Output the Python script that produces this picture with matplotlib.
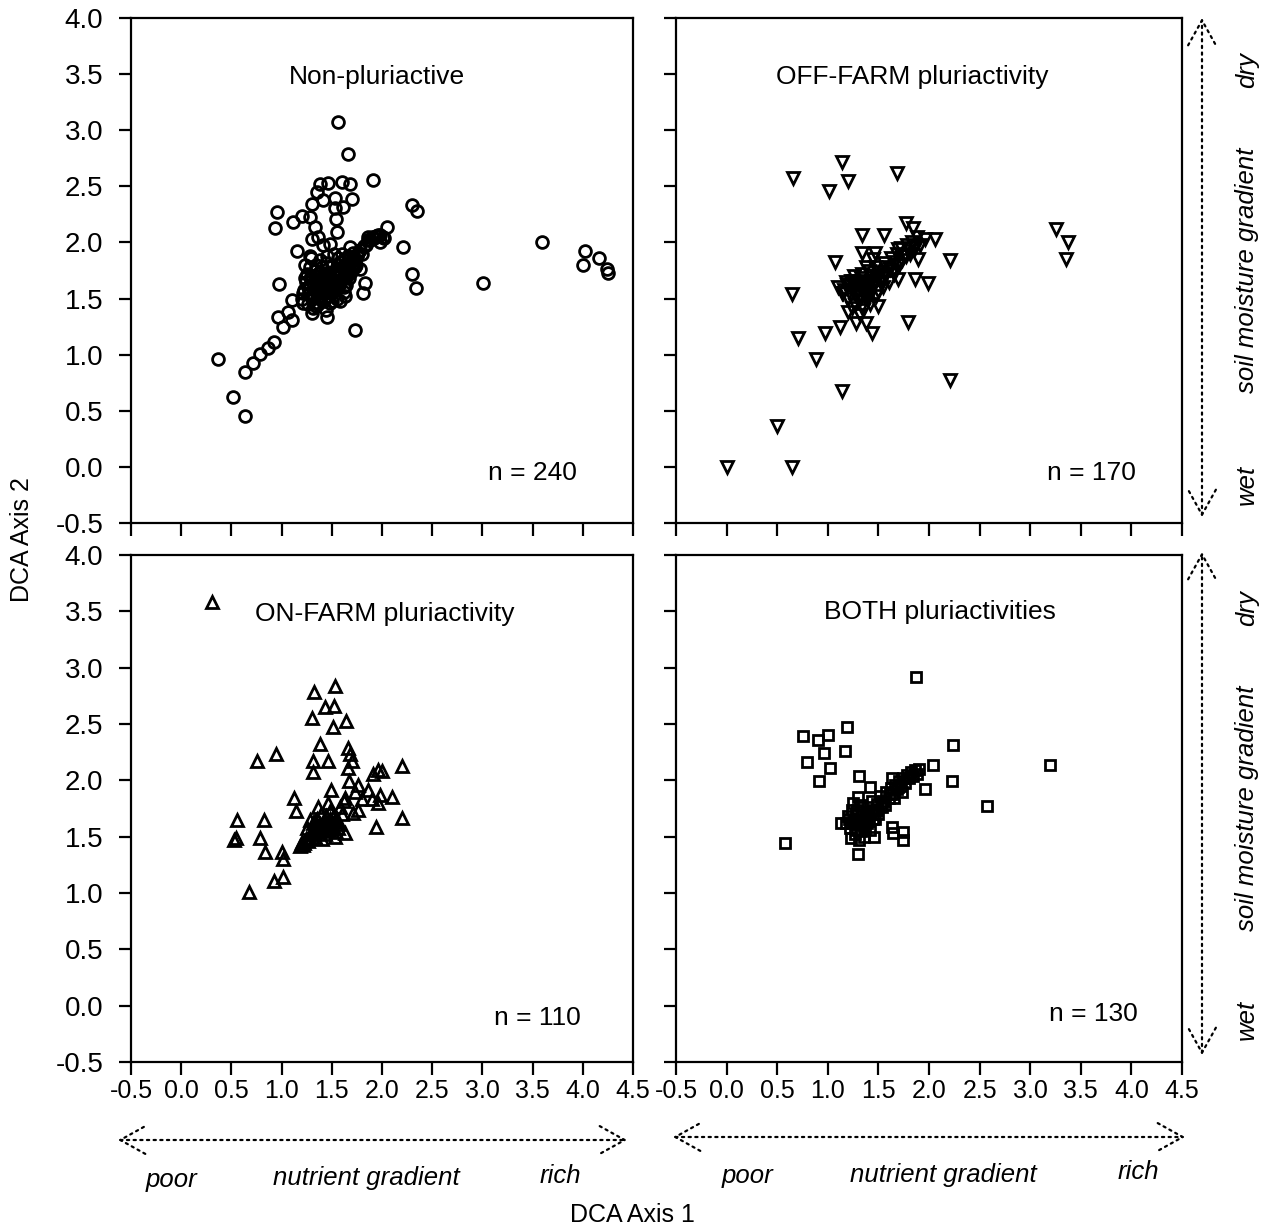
import numpy as np
import matplotlib
matplotlib.use('Agg')
import matplotlib.pyplot as plt
from matplotlib import font_manager

# fonts: helvetica-like, x tick labels are condensed in the original
names = {f.name for f in font_manager.fontManager.ttflist}
plt.rcParams['font.family'] = 'Liberation Sans'
narrow = 'Liberation Sans Narrow' if 'Liberation Sans Narrow' in names else None

# ---- data (DCA axis 1, DCA axis 2) ----
# Non-pluriactive (n = 240)
non_x = [0.37, 0.52, 0.64, 0.64, 0.72, 0.78, 0.86, 0.92, 0.96, 1.01, 1.06, 1.10, 1.10, 1.21, 1.30, 1.45,
         0.97, 1.15, 1.28, 1.30, 1.36, 1.41, 1.48, 0.95, 0.93, 1.11, 1.20, 1.30, 1.35, 1.38, 1.46, 1.60,
         1.68, 1.41, 1.53, 1.70, 1.61, 1.53, 1.54, 1.55, 1.33, 1.28, 1.56, 1.66, 1.91, 2.05, 1.86, 1.95,
         1.98, 2.21, 2.30, 2.35, 2.30, 2.34, 1.73, 1.83, 1.81, 1.78, 1.68, 1.71, 1.76, 1.63, 3.01, 3.59,
         4.02, 4.00, 4.16, 4.24, 4.25, 2.02,
         1.20, 1.22, 1.24, 1.25, 1.27, 1.28, 1.30, 1.30, 1.32, 1.33, 1.34, 1.35, 1.36, 1.37, 1.38, 1.39,
         1.40, 1.41, 1.42, 1.43, 1.44, 1.45, 1.46, 1.47, 1.48, 1.49, 1.50, 1.51, 1.52, 1.53, 1.54, 1.55,
         1.56, 1.57, 1.58, 1.59, 1.60, 1.61, 1.62, 1.63, 1.64, 1.65, 1.66, 1.67, 1.68, 1.70, 1.72, 1.74,
         1.36, 1.42, 1.48, 1.55, 1.26, 1.31, 1.44, 1.38, 1.45, 1.52, 1.23, 1.29, 1.78, 1.82, 1.86, 1.90,
         1.94, 1.98, 2.01, 1.58, 1.34, 1.46,
         1.21, 1.23, 1.26, 1.29, 1.31, 1.33, 1.35, 1.37, 1.39, 1.41, 1.43, 1.45, 1.47, 1.49, 1.51, 1.53,
         1.55, 1.57, 1.59, 1.61, 1.63, 1.65, 1.67, 1.69, 1.71, 1.73, 1.28, 1.34, 1.40, 1.46, 1.52, 1.58,
         1.64, 1.32, 1.38, 1.44, 1.50, 1.56, 1.62, 1.26, 1.75, 1.80, 1.84, 1.88, 1.92, 1.96, 1.60, 1.68]
non_y = [0.96, 0.62, 0.85, 0.45, 0.93, 1.01, 1.06, 1.11, 1.34, 1.25, 1.38, 1.31, 1.49, 1.46, 1.37, 1.34,
         1.63, 1.92, 1.88, 2.03, 2.05, 1.98, 1.99, 2.27, 2.13, 2.18, 2.24, 2.34, 2.45, 2.52, 2.53, 2.54,
         2.52, 2.38, 2.40, 2.39, 2.32, 2.31, 2.21, 2.09, 2.14, 2.23, 3.07, 2.79, 2.56, 2.14, 2.05, 2.06,
         2.00, 1.96, 2.33, 2.28, 1.72, 1.59, 1.22, 1.64, 1.55, 1.76, 1.96, 1.91, 1.91, 1.52, 1.64, 2.00,
         1.92, 1.80, 1.86, 1.76, 1.73, 2.04,
         1.50, 1.58, 1.65, 1.72, 1.55, 1.62, 1.68, 1.50, 1.58, 1.75, 1.64, 1.55, 1.70, 1.60, 1.66, 1.52,
         1.78, 1.62, 1.70, 1.57, 1.65, 1.60, 1.73, 1.68, 1.55, 1.62, 1.80, 1.66, 1.72, 1.58, 1.64, 1.76,
         1.69, 1.62, 1.83, 1.73, 1.67, 1.78, 1.60, 1.85, 1.72, 1.79, 1.88, 1.68, 1.82, 1.76, 1.86, 1.80,
         1.45, 1.48, 1.46, 1.50, 1.45, 1.42, 1.40, 1.84, 1.88, 1.90, 1.80, 1.86, 1.93, 1.97, 2.02, 2.05,
         2.06, 2.07, 2.05, 1.48, 1.43, 1.52,
         1.55, 1.68, 1.60, 1.70, 1.53, 1.67, 1.61, 1.73, 1.57, 1.68, 1.63, 1.71, 1.60, 1.66, 1.74, 1.69,
         1.63, 1.70, 1.75, 1.68, 1.73, 1.70, 1.76, 1.74, 1.80, 1.78, 1.78, 1.80, 1.56, 1.52, 1.60, 1.64,
         1.62, 1.46, 1.74, 1.82, 1.48, 1.86, 1.56, 1.60, 1.88, 1.90, 1.98, 2.02, 2.04, 2.07, 1.90, 1.85]

# OFF-FARM pluriactivity (n = 170)
off_x = [1.14, 0.66, 1.20, 1.01, 1.68, 1.77, 1.84, 1.34, 1.56, 2.06, 1.96, 2.21, 1.07, 1.34, 1.47, 1.69,
         1.89, 0.65, 1.14, 1.86, 1.99, 1.69, 1.50, 1.34, 1.79, 1.20, 1.12, 1.28, 1.38, 1.44, 0.97, 0.71,
         0.88, 1.14, 2.21, 0.50, 0.00, 0.65, 3.25, 3.37, 3.35,
         1.10, 1.15, 1.18, 1.20, 1.22, 1.25, 1.26, 1.28, 1.30, 1.31, 1.33, 1.34, 1.36, 1.37, 1.39, 1.40,
         1.41, 1.43, 1.44, 1.46, 1.47, 1.49, 1.50, 1.52, 1.54, 1.56, 1.58, 1.60, 1.62, 1.64, 1.66, 1.68,
         1.70, 1.72, 1.75, 1.78, 1.80, 1.83, 1.86, 1.88, 1.91, 1.27, 1.35, 1.32, 1.42, 1.24, 1.38, 1.45,
         1.55, 1.60, 1.48,
         1.16, 1.19, 1.21, 1.23, 1.26, 1.29, 1.32, 1.35, 1.38, 1.41, 1.44, 1.47, 1.50, 1.53, 1.57, 1.61,
         1.65, 1.69, 1.73, 1.77, 1.81, 1.85, 1.30, 1.36, 1.42, 1.48, 1.54, 1.25, 1.33, 1.40]
off_y = [2.72, 2.57, 2.55, 2.46, 2.62, 2.17, 2.13, 2.07, 2.07, 2.03, 2.03, 1.84, 1.83, 1.91, 1.91, 1.94,
         1.85, 1.54, 1.55, 1.67, 1.64, 1.67, 1.43, 1.43, 1.29, 1.38, 1.25, 1.28, 1.28, 1.19, 1.19, 1.15,
         0.96, 0.68, 0.77, 0.36, 0.00, 0.00, 2.12, 2.00, 1.85,
         1.60, 1.55, 1.65, 1.50, 1.62, 1.58, 1.70, 1.52, 1.64, 1.48, 1.60, 1.72, 1.55, 1.66, 1.62, 1.50,
         1.75, 1.58, 1.68, 1.63, 1.78, 1.70, 1.57, 1.74, 1.66, 1.82, 1.72, 1.78, 1.86, 1.75, 1.83, 1.90,
         1.80, 1.95, 1.88, 1.98, 1.92, 2.00, 1.95, 2.05, 1.98, 1.44, 1.40, 1.35, 1.45, 1.42, 1.78, 1.85,
         1.60, 1.65, 1.52,
         1.58, 1.62, 1.56, 1.66, 1.60, 1.56, 1.62, 1.60, 1.58, 1.64, 1.60, 1.66, 1.68, 1.64, 1.70, 1.76,
         1.72, 1.80, 1.84, 1.88, 1.90, 1.96, 1.58, 1.52, 1.55, 1.70, 1.68, 1.66, 1.68, 1.54]

# ON-FARM pluriactivity (n = 110)
on_x = [0.31, 1.53, 1.32, 1.43, 1.52, 1.30, 1.64, 1.51, 1.38, 1.66, 1.68, 1.70, 1.66, 0.75, 0.94, 1.31,
        1.46, 1.31, 1.96, 2.00, 1.91, 2.20, 1.67, 1.76, 1.86, 1.98, 2.10, 1.73, 1.63, 1.80, 1.49, 1.12,
        1.90, 1.96, 1.14, 1.76, 1.71, 2.20, 1.94, 1.63, 0.56, 0.82, 0.55, 0.78, 0.53, 0.83, 1.00, 1.01,
        0.92, 1.01, 0.68,
        1.18, 1.20, 1.22, 1.24, 1.26, 1.28, 1.30, 1.31, 1.33, 1.34, 1.35, 1.37, 1.38, 1.39, 1.40, 1.42,
        1.43, 1.44, 1.45, 1.47, 1.48, 1.50, 1.51, 1.52, 1.54, 1.55, 1.57, 1.58, 1.60, 1.36, 1.28, 1.25,
        1.46, 1.62, 1.40, 1.53,
        1.21, 1.27, 1.32, 1.36, 1.41, 1.45, 1.49, 1.53, 1.56, 1.33, 1.39, 1.44, 1.48, 1.30]
on_y = [3.58, 2.84, 2.78, 2.65, 2.66, 2.55, 2.53, 2.47, 2.32, 2.29, 2.23, 2.17, 2.11, 2.17, 2.23, 2.17,
        2.17, 2.07, 2.09, 2.08, 2.06, 2.13, 1.99, 1.96, 1.91, 1.87, 1.85, 1.90, 1.84, 1.83, 1.91, 1.84,
        1.83, 1.80, 1.73, 1.74, 1.71, 1.67, 1.59, 1.53, 1.65, 1.65, 1.49, 1.49, 1.47, 1.36, 1.36, 1.30,
        1.11, 1.14, 1.01,
        1.42, 1.45, 1.44, 1.48, 1.46, 1.52, 1.55, 1.62, 1.50, 1.58, 1.66, 1.54, 1.61, 1.70, 1.57, 1.64,
        1.52, 1.68, 1.60, 1.56, 1.73, 1.63, 1.58, 1.69, 1.54, 1.66, 1.61, 1.76, 1.70, 1.76, 1.65, 1.58,
        1.80, 1.82, 1.48, 1.50,
        1.43, 1.49, 1.56, 1.58, 1.60, 1.62, 1.60, 1.64, 1.58, 1.64, 1.55, 1.57, 1.66, 1.52]

# BOTH pluriactivities (n = 130)
both_x = [1.87, 1.19, 0.75, 0.90, 1.00, 1.17, 0.96, 0.79, 1.02, 0.91, 2.24, 2.23, 3.20, 2.57, 2.04, 1.96,
          1.31, 1.42, 1.63, 0.58, 1.13, 1.23, 1.31, 1.46, 1.63, 1.64, 1.74, 1.74, 1.30,
          1.18, 1.20, 1.22, 1.24, 1.26, 1.28, 1.29, 1.31, 1.32, 1.34, 1.35, 1.37, 1.38, 1.40, 1.41, 1.43,
          1.44, 1.46, 1.47, 1.49, 1.50, 1.52, 1.54, 1.56, 1.58, 1.60, 1.62, 1.64, 1.66, 1.68, 1.70, 1.72,
          1.74, 1.76, 1.78, 1.80, 1.82, 1.84, 1.86, 1.88, 1.90, 1.27, 1.33, 1.36, 1.42, 1.25, 1.30,
          1.21, 1.25, 1.29, 1.33, 1.37, 1.41, 1.45, 1.49, 1.53, 1.57, 1.61, 1.65, 1.69, 1.73, 1.35, 1.39]
both_y = [2.92, 2.47, 2.39, 2.36, 2.40, 2.26, 2.24, 2.16, 2.11, 1.99, 2.31, 1.99, 2.14, 1.77, 2.14, 1.92,
          2.04, 1.94, 2.02, 1.44, 1.62, 1.49, 1.47, 1.50, 1.59, 1.53, 1.54, 1.47, 1.35,
          1.62, 1.68, 1.58, 1.74, 1.64, 1.70, 1.56, 1.66, 1.78, 1.62, 1.72, 1.58, 1.68, 1.76, 1.64, 1.70,
          1.82, 1.74, 1.66, 1.79, 1.70, 1.86, 1.76, 1.82, 1.90, 1.84, 1.93, 1.88, 1.96, 1.92, 1.99, 1.95,
          2.02, 1.98, 2.05, 2.02, 2.07, 2.04, 2.09, 2.06, 2.10, 1.52, 1.55, 1.50, 1.56, 1.80, 1.85,
          1.66, 1.62, 1.74, 1.68, 1.64, 1.72, 1.66, 1.74, 1.80, 1.78, 1.88, 1.84, 1.94, 1.90, 1.60, 1.62]

titles = ['Non-pluriactive', 'OFF-FARM pluriactivity', 'ON-FARM pluriactivity', 'BOTH pluriactivities']
counts = ['n = 240', 'n = 170', 'n = 110', 'n = 130']
ticks = [-0.5, 0.0, 0.5, 1.0, 1.5, 2.0, 2.5, 3.0, 3.5, 4.0, 4.5]
tick_labels = ['%.1f' % t for t in ticks]

W, H = 1268, 1232
fig = plt.figure(figsize=(W / 100, H / 100), dpi=100)

# panel boxes in pixels (left, top, right, bottom)
boxes = [(131, 18, 633, 523), (676, 18, 1182, 523),
         (131, 555, 633, 1062), (676, 555, 1182, 1062)]
series = [(non_x, non_y, 'o', 8.5), (off_x, off_y, 'v', 9),
          (on_x, on_y, '^', 9), (both_x, both_y, 's', 7.5)]
title_pos = [(0.49, 0.883), (0.466, 0.883), (0.506, 0.884), (0.522, 0.888)]
n_pos = [(0.80, 0.10), (0.822, 0.10), (0.81, 0.087), (0.824, 0.095)]

for i, (l, t, r, b) in enumerate(boxes):
    ax = fig.add_axes([l / W, 1 - b / H, (r - l) / W, (b - t) / H])
    xs, ys, mk, ms = series[i]
    ax.plot(xs, ys, linestyle='none', marker=mk, ms=ms, mfc='none', mec='black', mew=2.0)
    ax.set_xlim(-0.5, 4.5)
    ax.set_ylim(-0.5, 4.0)
    ax.set_xticks(ticks)
    ax.set_yticks(ticks[:-1])
    ax.set_yticklabels(tick_labels[:-1])
    ax.set_xticklabels(tick_labels)
    for s in ax.spines.values():
        s.set_linewidth(1.6)
    ax.tick_params(direction='out', length=9, width=1.6, labelsize=20)
    ax.tick_params(axis='y', pad=11)
    ax.tick_params(axis='x', pad=3)
    if narrow:
        for lab in ax.get_xticklabels():
            lab.set_family(narrow)
            lab.set_fontsize(20)
    else:
        for lab in ax.get_xticklabels():
            lab.set_fontsize(18)
    if i < 2:
        ax.tick_params(labelbottom=False)
    if i % 2 == 1:
        ax.tick_params(labelleft=False)
    ax.text(title_pos[i][0], title_pos[i][1], titles[i], transform=ax.transAxes,
            ha='center', va='center', fontsize=19)
    ax.text(n_pos[i][0], n_pos[i][1], counts[i], transform=ax.transAxes,
            ha='center', va='center', fontsize=19)

# axis titles
fig.text(22 / W, 1 - 540 / H, 'DCA Axis 2', rotation=90, ha='center', va='center', fontsize=18)
fig.text(632 / W, 1 - 1215 / H, 'DCA Axis 1', ha='center', va='center', fontsize=18)

# dotted gradient arrows
arrow = dict(arrowstyle='<->,head_length=0.9,head_width=0.5', linestyle=(0, (1, 2)),
             lw=1.6, color='black', mutation_scale=20, shrinkA=0, shrinkB=0)


def px(x, y):
    return (x / W, 1 - y / H)


for (x0, x1, y) in [(118, 627, 1140), (673, 1185, 1137)]:
    fig.add_artist(matplotlib.patches.FancyArrowPatch(px(x0, y), px(x1, y),
                                                       transform=fig.transFigure, **arrow))
for (y0, y1) in [(18, 517), (552, 1055)]:
    fig.add_artist(matplotlib.patches.FancyArrowPatch(px(1202, y1), px(1202, y0),
                                                       transform=fig.transFigure, **arrow))

# gradient labels
for (x, y, s) in [(172, 1180, 'poor'), (366, 1178, 'nutrient gradient'), (560, 1176, 'rich'),
                  (748, 1176, 'poor'), (943, 1175, 'nutrient gradient'), (1138, 1172, 'rich')]:
    fig.text(*px(x, y), s, style='italic', ha='center', va='center', fontsize=18.5)
for (y, s) in [(70, 'dry'), (270, 'soil moisture gradient'), (485, 'wet'),
               (608, 'dry'), (808, 'soil moisture gradient'), (1020, 'wet')]:
    fig.text(*px(1247, y), s, style='italic', rotation=90, ha='center', va='center', fontsize=18.5)

fig.savefig('out.png', dpi=100)
